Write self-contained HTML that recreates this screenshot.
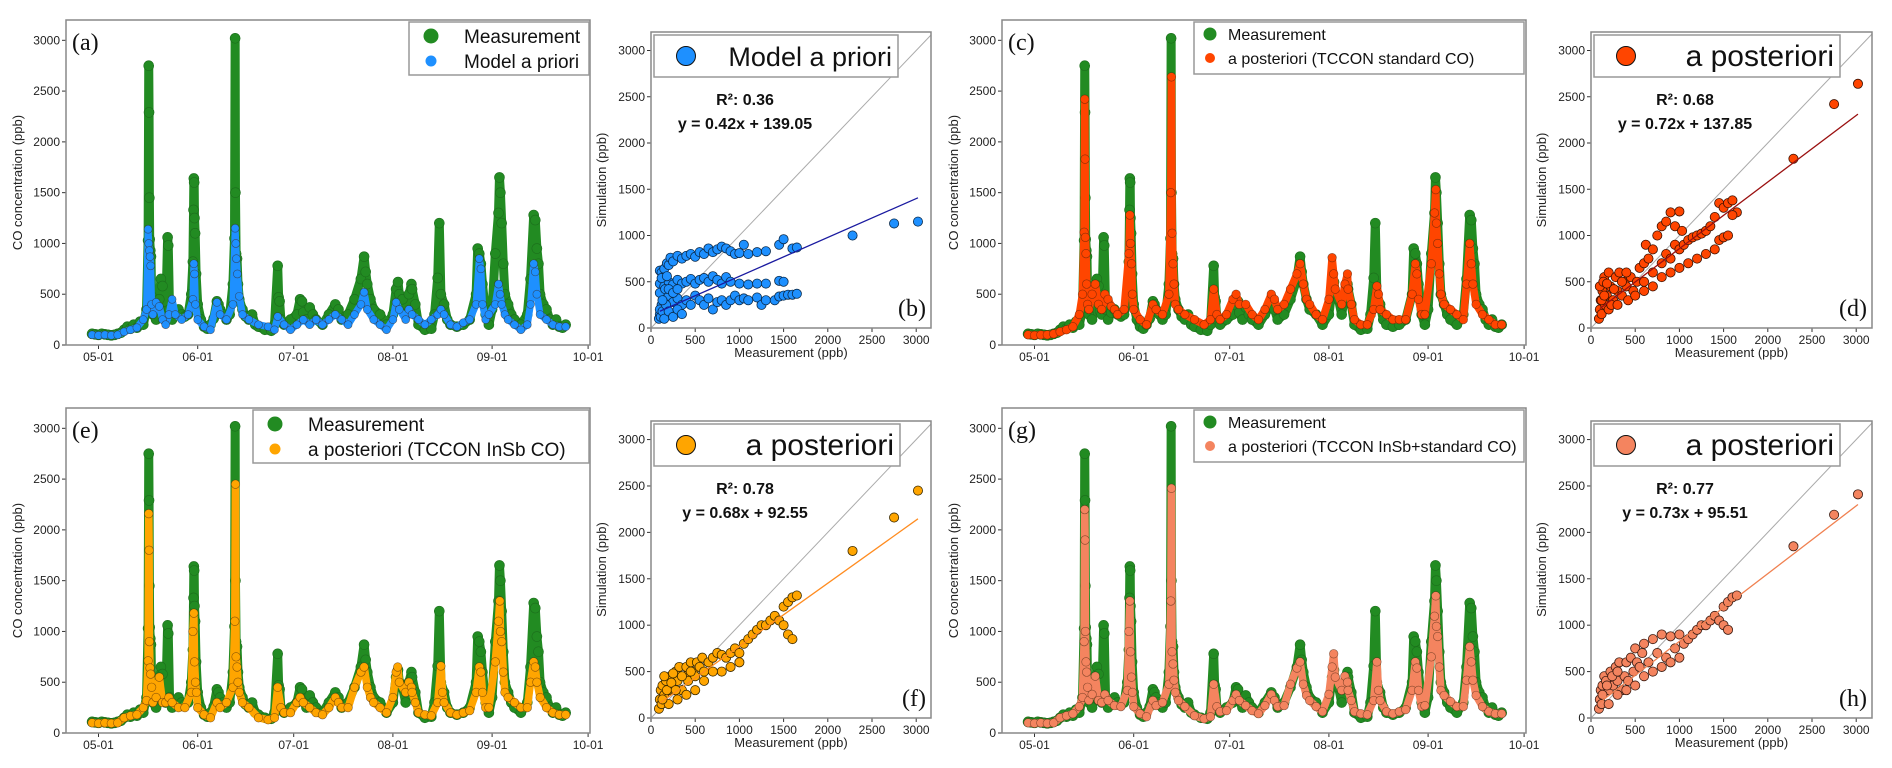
<!DOCTYPE html>
<html><head><meta charset="utf-8">
<style>
html,body{margin:0;padding:0;background:#fff;}
svg{display:block;font-family:"Liberation Sans","DejaVu Sans",sans-serif;}
</style></head>
<body>
<svg id="fig" width="1892" height="768" viewBox="0 0 1892 768" xmlns="http://www.w3.org/2000/svg"></svg>
<script>
// ---------- DATA ----------
const timeTickLabels = ["05-01","06-01","07-01","08-01","09-01","10-01"];
const timeTickDays = [0,31,61,92,123,153];
const concTicks = [0,500,1000,1500,2000,2500,3000];
const measTicks = [0,500,1000,1500,2000,2500,3000];

// measurement time series [day since May 1, ppb]
const measSeries = [[-2,110],[-1,105],[0,100],[1,110],[2,105],[3,100],[4,95],[5,100],[6,110],[7,120],[8,150],[9,180],[10,160],[11,200],[12,170],[13,230],[14,200],[15,350],[15.5,1030],[15.7,2750],[15.8,2290],[15.9,1450],[16,1040],[16.2,930],[16.4,870],[16.6,480],[17,300],[18,250],[19,450],[19.5,650],[20,580],[20.5,330],[21,300],[21.6,1060],[21.8,980],[22.2,350],[23,250],[24,320],[25,350],[26,300],[27,280],[28,300],[29,500],[29.5,820],[29.7,1330],[29.8,1640],[29.9,1600],[30,1250],[30.2,1100],[30.5,700],[31,400],[32,250],[33,180],[34,160],[35,200],[36,260],[37,430],[37.5,400],[38,350],[39,300],[40,250],[41,300],[42,600],[42.5,1050],[42.7,3020],[42.8,1500],[43,900],[43.3,850],[43.6,600],[44,450],[45,350],[46,280],[47,250],[48,300],[49,200],[50,180],[52,150],[54,140],[55,200],[56,780],[56.3,470],[56.6,430],[57,250],[58,200],[60,250],[62,300],[63,450],[63.6,430],[64,320],[65,250],[66,370],[67,300],[68,250],[70,200],[72,300],[74,400],[75,350],[76,250],[78,300],[80,450],[82,650],[83,870],[83.5,720],[84,600],[85,450],[86,350],[88,300],[90,200],[92,300],[93,550],[93.6,620],[94,500],[95,450],[96,300],[97,500],[97.8,600],[98,550],[99,400],[100,200],[102,150],[104,160],[105,300],[106,660],[106.5,1200],[107,500],[108,400],[109,250],[110,200],[112,180],[114,200],[116,250],[118,500],[118.5,950],[119,900],[119.5,800],[120,600],[121,300],[122,200],[123,350],[124,900],[125,1300],[125.3,1650],[125.6,1500],[126,1200],[126.5,800],[127,500],[128,400],[129,300],[130,250],[132,200],[134,300],[135,650],[136,1280],[136.5,1230],[137,950],[137.5,800],[138,500],[139,400],[140,350],[141,250],[142,200],[143,250],[144,180],[145,170],[146,200]];

const prioriSeries = [[-2,100],[0,95],[2,100],[4,95],[6,100],[8,130],[10,150],[12,170],[14,250],[15,350],[15.5,1140],[15.7,1000],[15.9,930],[16.1,870],[16.3,780],[16.6,400],[17,300],[18,420],[19,380],[20,250],[21,200],[22,300],[23,450],[24,300],[26,250],[28,300],[29.5,450],[29.8,800],[30,700],[30.3,400],[31,250],[33,180],[35,150],[37,420],[38,300],[40,250],[42,400],[42.7,1150],[42.9,1000],[43.1,850],[43.4,700],[44,480],[45,300],[47,250],[50,200],[53,180],[55,150],[56,280],[58,200],[60,150],[62,200],[64,250],[66,200],[68,250],[70,200],[72,250],[74,300],[76,250],[78,200],[80,300],[82,400],[83,520],[84,350],[86,250],[88,200],[90,150],[92,250],[93,420],[94,350],[96,250],[97,350],[98,300],[100,250],[102,200],[104,250],[106,300],[107,350],[108,300],[110,200],[112,180],[114,220],[116,250],[118,400],[119,850],[119.5,750],[120,400],[121,250],[122,300],[124,400],[125,600],[125.5,500],[126,400],[127,300],[128,250],[130,200],[132,150],[134,200],[135,400],[136,800],[136.5,720],[137,500],[138,300],[140,250],[142,200],[144,180],[146,180]];

const postStdSeries = [[-2,100],[0,95],[2,100],[4,100],[6,110],[8,130],[10,150],[12,180],[14,300],[15,500],[15.5,1110],[15.7,2420],[15.8,1830],[15.9,1060],[16.1,900],[16.3,600],[16.6,400],[17,350],[18,500],[19,600],[20,400],[21,350],[22,500],[23,450],[24,380],[25,350],[26,300],[28,350],[29.5,900],[29.8,1280],[30,1000],[30.3,800],[30.6,500],[31,350],[33,250],[35,200],[37,400],[38,350],[40,300],[42,500],[42.6,1500],[42.8,2640],[43,1100],[43.3,800],[43.6,600],[44,400],[45,350],[47,300],[50,250],[53,200],[55,250],[56,550],[57,300],[58,250],[60,300],[62,450],[63,500],[64,400],[66,400],[68,300],[70,250],[72,350],[74,500],[75,450],[76,350],[78,400],[80,550],[82,700],[83,800],[84,600],[85,450],[86,400],[88,300],[90,250],[92,450],[93,860],[93.5,700],[94,550],[96,400],[97,600],[97.8,700],[98,550],[99,400],[100,250],[102,200],[104,200],[106,350],[107,580],[107.5,500],[108,350],[110,300],[112,250],[114,250],[116,250],[118,500],[119,800],[119.5,700],[120,450],[121,300],[122,300],[124,800],[125,1300],[125.4,1530],[125.6,1200],[126,1000],[126.5,700],[127,500],[128,400],[130,350],[132,300],[134,250],[135,600],[136,1000],[136.5,800],[137,600],[138,400],[140,300],[142,250],[144,200],[146,200]];

const postInsbSeries = [[-2,100],[0,95],[2,100],[4,95],[6,100],[8,150],[10,170],[12,180],[14,250],[15,320],[15.5,710],[15.7,2160],[15.8,1800],[15.9,900],[16.1,640],[16.3,580],[16.6,450],[17,300],[18,350],[19,550],[20,300],[21,300],[22,350],[23,300],[25,250],[27,250],[29,400],[29.5,1000],[29.8,1180],[30,700],[30.3,500],[30.6,400],[31,250],[33,180],[35,150],[37,300],[38,250],[40,300],[42,450],[42.6,1100],[42.8,2450],[43,750],[43.3,650],[43.6,500],[44,400],[45,300],[47,250],[50,150],[53,130],[55,150],[56,450],[57,250],[58,200],[60,200],[62,300],[63,350],[64,300],[66,250],[68,200],[70,180],[72,250],[74,350],[75,300],[76,250],[78,250],[80,450],[82,600],[83,650],[84,450],[85,350],[86,300],[88,250],[90,200],[92,350],[93,600],[93.5,650],[94,500],[96,400],[97,500],[97.8,450],[98,400],[99,300],[100,200],[102,180],[104,170],[106,300],[107,660],[107.5,400],[108,300],[110,200],[112,180],[114,200],[116,220],[118,400],[119,650],[119.5,600],[120,400],[121,250],[122,250],[124,700],[125,1100],[125.4,1300],[125.6,1000],[126,900],[126.5,600],[127,400],[128,350],[130,300],[132,250],[134,250],[135,500],[136,700],[136.5,650],[137,500],[138,350],[140,250],[142,200],[144,180],[146,180]];

const postBothSeries = [[-2,100],[0,95],[2,100],[4,95],[6,100],[8,150],[10,170],[12,190],[14,260],[15,350],[15.5,900],[15.7,2200],[15.8,1900],[15.9,1000],[16.1,700],[16.3,600],[16.6,450],[17,320],[18,380],[19,560],[20,320],[21,300],[22,380],[23,320],[25,270],[27,260],[29,420],[29.5,1000],[29.8,1300],[30,800],[30.3,550],[30.6,400],[31,260],[33,190],[35,160],[37,320],[38,270],[40,300],[42,480],[42.6,1300],[42.8,2410],[43,800],[43.3,680],[43.6,520],[44,400],[45,320],[47,260],[50,170],[53,140],[55,160],[56,480],[57,260],[58,210],[60,220],[62,320],[63,380],[64,320],[66,270],[68,220],[70,190],[72,270],[74,380],[75,320],[76,260],[78,270],[80,480],[82,640],[83,700],[84,480],[85,370],[86,320],[88,260],[90,210],[92,380],[93,650],[93.5,780],[94,550],[96,420],[97,560],[97.8,500],[98,420],[99,320],[100,210],[102,190],[104,180],[106,320],[107,700],[107.5,420],[108,320],[110,210],[112,190],[114,210],[116,230],[118,420],[119,700],[119.5,640],[120,420],[121,260],[122,270],[124,750],[125,1150],[125.4,1350],[125.6,1050],[126,950],[126.5,650],[127,420],[128,370],[130,310],[132,260],[134,260],[135,520],[136,850],[136.5,700],[137,520],[138,370],[140,260],[142,210],[144,190],[146,190]];

// scatter [measurement, simulation]
const scatterPriori = [[100,620],[120,600],[150,640],[180,700],[200,680],[220,760],[250,720],[300,780],[350,750],[400,780],[450,800],[500,770],[550,820],[600,800],[650,860],[700,820],[750,850],[800,880],[850,860],[900,830],[950,800],[1000,810],[1050,900],[1100,800],[1200,820],[1300,830],[100,480],[150,450],[200,500],[250,470],[300,520],[350,480],[400,500],[450,530],[500,480],[550,520],[600,540],[650,500],[700,560],[750,520],[800,480],[850,550],[900,500],[1000,480],[1100,470],[1200,480],[1300,480],[1450,510],[1500,500],[100,150],[120,250],[150,300],[180,200],[200,350],[250,280],[300,320],[350,250],[400,300],[450,250],[500,350],[550,300],[600,250],[650,320],[700,200],[750,280],[800,300],[850,250],[900,300],[950,350],[1000,300],[1050,320],[1100,300],[1200,330],[1250,250],[1300,300],[1400,300],[1450,340],[1500,350],[1550,360],[1600,360],[1650,370],[90,100],[100,200],[110,120],[130,180],[150,100],[170,250],[200,180],[250,120],[300,200],[350,150],[100,380],[130,300],[160,420],[200,420],[250,380],[300,420],[120,540],[180,560],[1450,900],[1500,960],[1600,860],[1650,870],[2280,1000],[2750,1130],[3020,1150]];
const scatterStd = [[90,100],[100,200],[110,300],[120,150],[130,400],[150,550],[160,250],[180,350],[200,600],[220,450],[250,300],[280,550],[300,400],[320,600],[350,350],[380,500],[400,450],[420,300],[450,550],[480,400],[500,350],[520,500],[100,450],[140,500],[200,200],[260,420],[120,300],[180,480],[230,250],[300,250],[350,500],[400,600],[150,350],[550,650],[600,700],[620,900],[650,750],[700,850],[750,1000],[800,1100],[850,1150],[900,1250],[950,1100],[1000,1260],[1030,1050],[600,500],[700,600],[800,700],[850,800],[900,750],[950,900],[1000,850],[1050,900],[1100,950],[1150,980],[1200,1000],[1250,1020],[1300,1050],[1350,1100],[1400,1200],[1450,1350],[1500,1300],[1550,1350],[1600,1380],[1650,1250],[1600,1220],[600,400],[700,450],[800,550],[900,600],[1000,650],[1100,700],[1200,750],[1300,800],[1400,850],[1450,950],[1500,980],[1550,1000],[2290,1830],[2750,2420],[3020,2640]];
const scatterInsb = [[90,100],[100,200],[110,300],[120,150],[130,350],[150,250],[170,400],[200,300],[220,450],[250,350],[280,500],[300,400],[320,550],[350,300],[380,450],[400,550],[420,400],[450,600],[480,500],[500,450],[520,600],[550,550],[580,650],[600,500],[650,600],[700,650],[750,700],[800,680],[850,650],[900,700],[950,750],[1000,700],[1050,800],[1100,850],[1150,900],[1200,950],[1250,1000],[1300,1000],[1350,1050],[1400,1100],[1450,1050],[1500,1200],[1550,1250],[1600,1300],[1650,1320],[1500,1000],[1550,900],[1600,850],[1000,600],[900,550],[800,500],[700,500],[600,400],[500,300],[400,250],[300,200],[200,150],[150,450],[250,480],[130,200],[180,300],[230,380],[280,300],[350,450],[450,500],[2280,1800],[2750,2160],[3020,2450]];
const scatterBoth = [[90,100],[100,200],[110,300],[120,150],[130,350],[150,450],[170,400],[200,300],[220,500],[250,350],[280,550],[300,400],[320,600],[350,300],[380,450],[400,600],[420,400],[450,650],[480,500],[500,750],[520,600],[550,550],[580,700],[600,800],[650,600],[700,850],[750,700],[800,900],[850,650],[900,880],[950,750],[1000,900],[1050,800],[1100,850],[1150,900],[1200,950],[1250,1000],[1300,1000],[1350,1050],[1400,1100],[1450,1050],[1500,1200],[1550,1250],[1600,1300],[1650,1320],[1500,1000],[1550,950],[1000,650],[900,600],[800,550],[700,500],[600,450],[500,350],[400,300],[300,250],[200,150],[130,250],[180,350],[240,450],[300,500],[2290,1850],[2750,2190],[3020,2410]];

const fitR2 = ["0.36","0.68","0.78","0.77"];
const fitSlope = [0.42,0.72,0.68,0.73];
const fitIntercept = [139.05,137.85,92.55,95.51];

// ---------- DRAW ----------
const NS="http://www.w3.org/2000/svg";
const svg=document.getElementById('fig');
function mk(tag,attrs,parent,text){const e=document.createElementNS(NS,tag);for(const k in attrs)e.setAttribute(k,attrs[k]);if(text!==undefined)e.textContent=text;(parent||svg).appendChild(e);return e;}

function timePanel(L,T,B,R,series,colors,radii,labels,legendSmall,letter,key){
  const g=mk('g',{});
  
  
  const ys=v=>B-v*(B-T)/3200, xs=d=>L+32.5+d*3.2;
  concTicks.forEach(v=>{mk('line',{x1:L-4,x2:L,y1:ys(v),y2:ys(v),stroke:'#333'},g);
    const t=mk('text',{x:L-6,y:ys(v)+4,'text-anchor':'end','font-size':12,fill:'#222'},g,String(v));
    });
  timeTickDays.forEach((d,i)=>{mk('line',{x1:xs(d),x2:xs(d),y1:B,y2:B+4,stroke:'#333'},g);
    const t=mk('text',{x:xs(d),y:B+16,'text-anchor':'middle','font-size':12,fill:'#222'},g,timeTickLabels[i]);
    });
  const yl=mk('text',{x:L-44,y:(T+B)/2,'text-anchor':'middle','font-size':13,fill:'#222',transform:`rotate(-90 ${L-44} ${(T+B)/2})`},g,'CO concentration (ppb)');
  
  series.forEach((s,si)=>{
    const sg=mk('g',{},g);
    
    
    const pts=s.map(p=>xs(p[0])+','+ys(p[1])).join(' ');
    mk('polyline',{points:pts,fill:'none',stroke:colors[si],'stroke-width':radii[si]*2-1,'stroke-linejoin':'round','stroke-linecap':'round'},sg);
    s.forEach(p=>{const c=mk('circle',{cx:xs(p[0]),cy:ys(p[1]),r:radii[si],fill:colors[si],stroke:si===0?'#1c6e1c':'rgba(60,30,10,0.6)','stroke-width':0.6},sg);
      });
  });
  mk('rect',{x:L,y:T,width:R-L,height:B-T,fill:'none',stroke:'#888','stroke-width':1.5},g);
  const lt=mk('text',{x:L+6,y:T+30,'font-family':'Liberation Serif, serif','font-size':24,fill:'#111'},g,letter);
  
  const lg=mk('g',{},g);
  
  
  if(legendSmall){
    const x0=R-332; mk('rect',{x:x0,y:T+2,width:330,height:52,fill:'#fff',stroke:'#999','stroke-width':1.5},lg);
    mk('circle',{cx:x0+16,cy:T+14,r:6.5,fill:colors[0]},lg);
    mk('circle',{cx:x0+16,cy:T+38,r:5,fill:colors[1]},lg);
    mk('text',{x:x0+34,y:T+20,'font-size':16,fill:'#111'},lg,labels[0]);
    mk('text',{x:x0+34,y:T+44,'font-size':16,fill:'#111'},lg,labels[1]);
  } else {
    const w=labels[1].length>16?336:180, x0=R-w-1;
    mk('rect',{x:x0,y:T+2,width:w,height:53,fill:'#fff',stroke:'#999','stroke-width':1.5},lg);
    mk('circle',{cx:x0+22,cy:T+16,r:7.5,fill:colors[0]},lg);
    mk('circle',{cx:x0+22,cy:T+41,r:5.5,fill:colors[1]},lg);
    mk('text',{x:x0+55,y:T+23,'font-size':19,fill:'#111'},lg,labels[0]);
    mk('text',{x:x0+55,y:T+48,'font-size':19,fill:'#111'},lg,labels[1]);
  }
}

function scatterPanel(L,T,B,R,data,color,edge,fitColor,idx,legendText,legendSize,letter,key){
  const g=mk('g',{});
  
  
  const xmax=(R-L)/0.0884;
  const xs=v=>L+v*0.0884, ys=v=>B-v*(B-T)/3200;
  measTicks.forEach(v=>{mk('line',{x1:L-4,x2:L,y1:ys(v),y2:ys(v),stroke:'#333'},g);
    mk('text',{x:L-6,y:ys(v)+4,'text-anchor':'end','font-size':12,fill:'#222'},g,String(v));
    mk('line',{x1:xs(v),x2:xs(v),y1:B,y2:B+4,stroke:'#333'},g);
    mk('text',{x:xs(v),y:B+16,'text-anchor':'middle','font-size':12,fill:'#222'},g,String(v));});
  const yl=mk('text',{x:L-45,y:(T+B)/2,'text-anchor':'middle','font-size':13,fill:'#222',transform:`rotate(-90 ${L-45} ${(T+B)/2})`},g,'Simulation (ppb)');
  
  const xl=mk('text',{x:(L+R)/2,y:B+29,'text-anchor':'middle','font-size':13,fill:'#222'},g,'Measurement (ppb)');
  
  const m=Math.min(xmax,3200);
  mk('line',{x1:xs(0),y1:ys(0),x2:xs(m),y2:ys(m),stroke:'#aaa','stroke-width':1},g);
  const pg=mk('g',{},g);
  
  
  data.forEach(p=>{const c=mk('circle',{cx:xs(p[0]),cy:ys(p[1]),r:4.6,fill:color,stroke:edge,'stroke-width':0.8},pg);
    });
  const fx1=100, fx2=3020;
  const fl=mk('line',{x1:xs(fx1),y1:ys(fitSlope[idx]*fx1+fitIntercept[idx]),x2:xs(fx2),y2:ys(fitSlope[idx]*fx2+fitIntercept[idx]),stroke:fitColor,'stroke-width':1.3},g);
  
  mk('rect',{x:L,y:T,width:R-L,height:B-T,fill:'none',stroke:'#888','stroke-width':1.5},g);
  const r2=mk('text',{x:L+94,y:T+73,'text-anchor':'middle','font-size':16,'font-weight':'bold',fill:'#111'},g,'R²: '+fitR2[idx]);
  
  const eq=mk('text',{x:L+94,y:T+97,'text-anchor':'middle','font-size':16,'font-weight':'bold',fill:'#111'},g,'y = '+fitSlope[idx].toFixed(2)+'x + '+fitIntercept[idx].toFixed(2));
  
  const lt=mk('text',{x:R-5,y:B-12,'text-anchor':'end','font-family':'Liberation Serif, serif','font-size':24,fill:'#111'},g,letter);
  
  const lg=mk('g',{},g);
  
  
  const lw=legendSize>28?246:244;
  mk('rect',{x:L+3,y:T+3,width:lw,height:42,fill:'#fff',stroke:'#999','stroke-width':1.5},lg);
  mk('circle',{cx:L+35,cy:T+24,r:9.5,fill:color,stroke:'#111','stroke-width':1},lg);
  mk('text',{x:L+lw-3,y:T+34,'text-anchor':'end','font-size':legendSize,fill:'#111'},lg,legendText);
}

const GREEN='#228B22';
timePanel(66,20,345,590,[measSeries,prioriSeries],[GREEN,'#1E90FF'],[5,4],['Measurement','Model a priori'],false,'(a)','a');
scatterPanel(651,32,328,931,scatterPriori,'#1E90FF','#0a2a4a','#1a1aa0',0,'Model a priori',27,'(b)','b');
timePanel(1002,20,345,1526,[measSeries,postStdSeries],[GREEN,'#FF4500'],[5,4.3],['Measurement','a posteriori (TCCON standard CO)'],true,'(c)','c');
scatterPanel(1591,32,328,1872,scatterStd,'#FF4500','#3a1000','#9a1010',1,'a posteriori',30,'(d)','d');
timePanel(66,408,733,590,[measSeries,postInsbSeries],[GREEN,'#FFA500'],[5,4.3],['Measurement','a posteriori (TCCON InSb CO)'],false,'(e)','e');
scatterPanel(651,421,718,931,scatterInsb,'#FFA500','#3a2a00','#FF8C20',2,'a posteriori',30,'(f)','f');
timePanel(1002,408,733,1526,[measSeries,postBothSeries],[GREEN,'#F4845F'],[5,4.3],['Measurement','a posteriori (TCCON InSb+standard CO)'],true,'(g)','g');
scatterPanel(1591,421,718,1872,scatterBoth,'#F4845F','#3a1a10','#F08050',3,'a posteriori',30,'(h)','h');
</script>
</body></html>
